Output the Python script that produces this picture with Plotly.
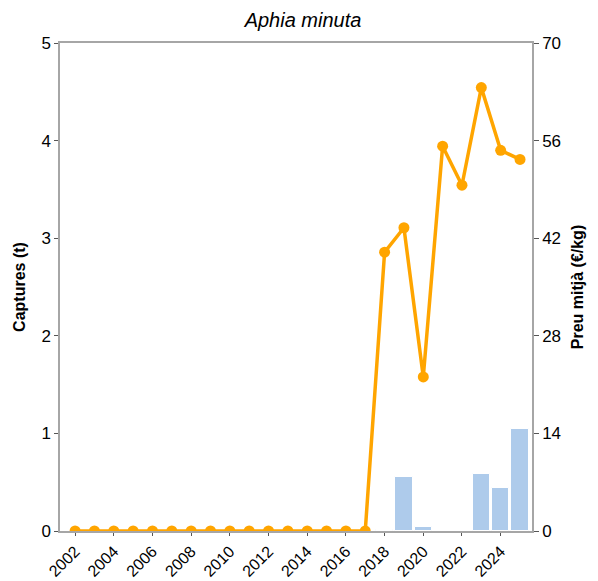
import plotly.graph_objects as go

years = list(range(2002, 2026))
captures_t = [0, 0, 0, 0, 0, 0, 0, 0, 0, 0, 0, 0, 0, 0, 0, 0, 0.01, 0.55, 0.045, 0, 0, 0.58, 0.44, 1.05]
price_eur_kg = [0, 0, 0, 0, 0, 0, 0, 0, 0, 0, 0, 0, 0, 0, 0, 0, 40.0, 43.5, 22.1, 55.2, 49.6, 63.6, 54.6, 53.3]
left_ticks = [0, 1, 2, 3, 4, 5]
right_ticks = [0, 14, 28, 42, 56, 70]
x_ticks = list(range(2002, 2026, 2))

font_family = "Liberation Sans, Arial, sans-serif"
axis_color = "#a6a6a6"

fig = go.Figure()
fig.add_trace(go.Bar(
    x=years, y=captures_t, width=0.9,
    marker=dict(color="#aecbeb", line=dict(color="white", width=1)),
    yaxis="y", showlegend=False,
))
fig.add_trace(go.Scatter(
    x=years, y=price_eur_kg, mode="lines+markers",
    line=dict(color="#ffa500", width=3.5),
    marker=dict(color="#ffa500", size=11),
    yaxis="y2", showlegend=False,
))

fig.update_layout(
    width=590, height=573,
    margin=dict(l=52, r=66, t=35, b=50),
    plot_bgcolor="white", paper_bgcolor="white",
    font=dict(family=font_family, size=17, color="black"),
    title=dict(text="<i>Aphia minuta</i>", x=0.5, xanchor="center", y=0.979, yanchor="middle",
               font=dict(size=20, family=font_family)),
    bargap=0,
    xaxis=dict(
        range=[2001.22, 2025.62], tickmode="array", tickvals=x_ticks,
        ticktext=[str(v) for v in x_ticks], tickangle=-45, automargin=False,
        tickfont=dict(size=16),
        showline=True, linecolor=axis_color, linewidth=1.5, mirror=True,
        ticks="outside", ticklen=3, tickcolor="#555", showgrid=False, zeroline=False,
    ),
    yaxis=dict(
        range=[0, 5], tickmode="array", tickvals=left_ticks, automargin=False,
        title=dict(text="<b>Captures (t)</b>", font=dict(size=16), standoff=12),
        showline=True, linecolor=axis_color, linewidth=1.5,
        ticks="outside", ticklen=4, tickcolor="#555", showgrid=False, zeroline=False,
    ),
    yaxis2=dict(
        range=[0, 70], tickmode="array", tickvals=right_ticks, automargin=False,
        overlaying="y", side="right",
        title=dict(text="<b>Preu mitjà (€/kg)</b>", font=dict(size=16), standoff=12),
        showline=True, linecolor=axis_color, linewidth=1.5,
        ticks="outside", ticklen=5, tickcolor="#555", showgrid=False, zeroline=False,
    ),
)

fig.write_html("out.html")
